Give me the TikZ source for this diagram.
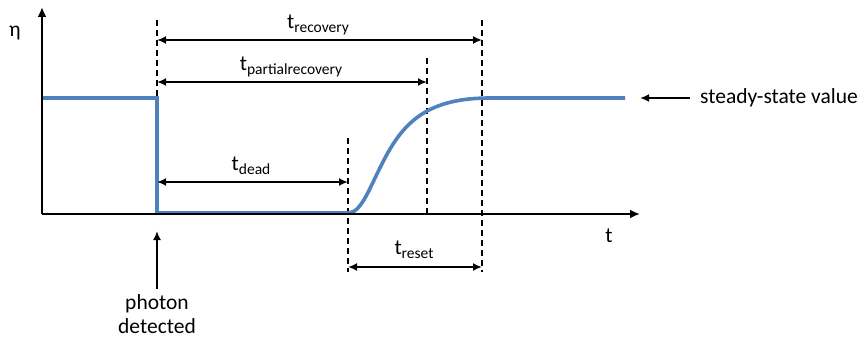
\documentclass[tikz,border=0pt]{standalone}
\usepackage{fontspec}
\setmainfont{Carlito}
\usetikzlibrary{arrows.meta}
\definecolor{curveblue}{RGB}{79,129,189}
\newcommand{\tlab}[1]{t\raisebox{-0.35ex}{\fontsize{15.5}{15.5}\selectfont #1}}
\begin{document}
\begin{tikzpicture}[x=1pt,y=-1pt,
  axis/.style={line width=2.8pt,-{Latex[length=10pt,width=9pt]}},
  dim/.style={line width=2.2pt,{Latex[length=9pt,width=8pt]}-{Latex[length=9pt,width=8pt]}},
  ptr/.style={line width=2.2pt,-{Latex[length=9pt,width=8pt]}},
  guide/.style={line width=1.6pt,dash pattern=on 6pt off 4pt},
  lbl/.style={font=\fontsize{21.5}{24}\selectfont,inner sep=0pt},
  curve/.style={curveblue,line width=3.6pt,line join=miter}]
\useasboundingbox (0,0) rectangle (866,339);
% coordinates
\coordinate (O) at (42,214);
\coordinate (ytop) at (42,7);
\coordinate (xend) at (640,214);
% guides
\coordinate (g1t) at (157,20);  \coordinate (g1b) at (157,214);
\coordinate (g2t) at (348,138); \coordinate (g2b) at (348,272);
\coordinate (g3t) at (427,58);  \coordinate (g3b) at (427,214);
\coordinate (g4t) at (482,20);  \coordinate (g4b) at (482,272);
\draw[guide] (g1t) -- (g1b);
\draw[guide] (g2t) -- (g2b);
\draw[guide] (g3t) -- (g3b);
\draw[guide] (g4t) -- (g4b);
% curve
\draw[curve] (42,98) -- (157,98) -- (157,213) -- (348,213)
  .. controls (362,213) and (370,186) .. (385,158)
  .. controls (405,120) and (430,98) .. (490,98) -- (625,98);
% axes
\draw[axis] (O) -- (ytop);
\draw[axis] (O) -- (xend);
\node[lbl] (eta) at (15,33) {η};
\node[lbl] (tax) at (609,236) {t};
% dimension arrows
\coordinate (r1) at (157,40); \coordinate (r2) at (482,40);
\draw[dim] (r1) -- (r2);
\node[lbl] (trec) at (318,25) {\tlab{recovery}};
\coordinate (p1) at (157,82); \coordinate (p2) at (427,82);
\draw[dim] (p1) -- (p2);
\node[lbl] (tpart) at (291,67) {\tlab{partialrecovery}};
\coordinate (d1) at (157,182); \coordinate (d2) at (348,182);
\draw[dim] (d1) -- (d2);
\node[lbl] (tdead) at (251,166) {\tlab{dead}};
\coordinate (s1) at (348,267); \coordinate (s2) at (482,267);
\draw[dim] (s1) -- (s2);
\node[lbl] (treset) at (414,250) {\tlab{reset}};
% steady state
\node[lbl,anchor=west] (ss) at (700,98) {steady-state value};
\coordinate (ssend) at (640,98);
\draw[ptr] (690,98) -- (ssend);
% photon detected
\node[lbl,align=center] (pd) at (157,314) {photon\\detected};
\coordinate (pdtip) at (157,231);
\draw[ptr] (157,289) -- (pdtip);
\end{tikzpicture}
\end{document}
